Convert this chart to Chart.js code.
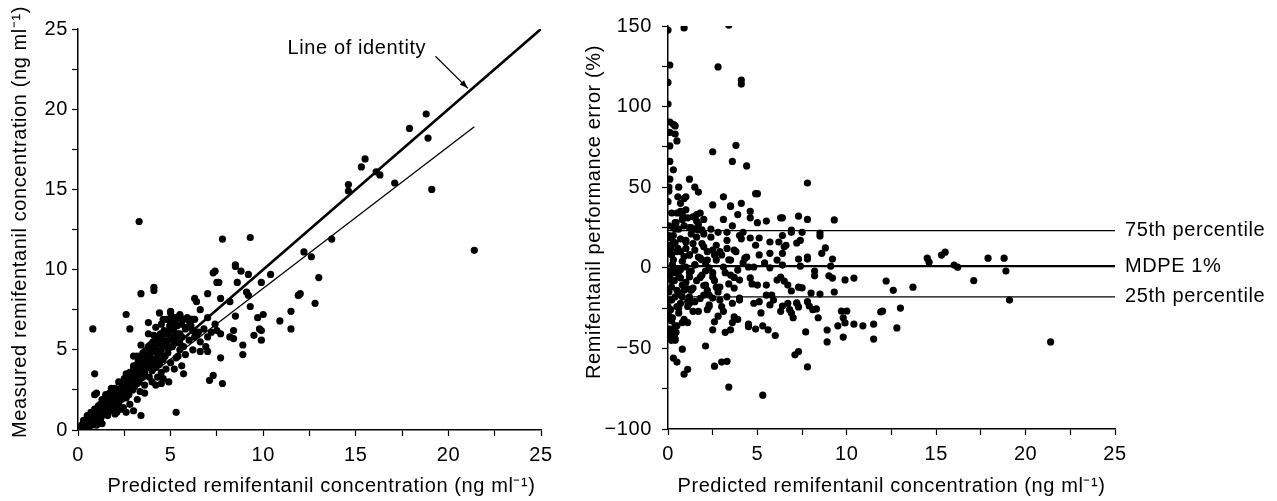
<!DOCTYPE html>
<html>
<head>
<meta charset="utf-8">
<script src="https://cdn.jsdelivr.net/npm/chart.js@4.4.1/dist/chart.umd.min.js"></script>
<style>
  body { margin: 0; background: #fff; }
  #left { position: absolute; left: 0; top: 0; }
  #right { position: absolute; left: 575px; top: 0; }
</style>
</head>
<body>
<canvas id="left" width="575" height="501"></canvas>
<canvas id="right" width="702" height="501"></canvas>
<script>
// panel A: predicted vs measured (ng/ml)
const predicted = [0.05,0.1,0.15,0.2,0.25,0.3,0.3,0.35,0.4,0.4,0.45,0.5,0.5,0.55,0.6,0.6,0.65,0.7,0.7,0.75,0.8,0.85,0.9,0.9,0.95,1.0,1.0,1.05,1.1,1.15,1.2,1.2,1.25,1.3,1.35,1.4,1.45,1.5,1.5,1.55,1.6,1.65,1.7,1.75,1.8,1.8,1.85,1.9,1.95,2.0,2.0,2.05,2.1,2.15,2.2,2.25,2.3,2.35,2.4,2.45,2.5,2.55,2.6,2.65,2.7,2.75,2.8,2.85,2.9,2.95,3.0,3.0,3.05,3.1,3.15,3.2,3.25,3.3,3.3,3.35,3.4,3.45,3.5,3.5,3.55,3.6,3.6,3.65,3.7,3.75,3.8,3.85,3.9,3.9,3.95,4.0,4.05,4.1,4.15,4.2,4.25,4.3,4.35,4.4,4.45,4.5,4.5,4.55,4.6,4.65,4.7,4.75,4.8,4.85,4.9,4.95,5.0,5.05,5.1,5.15,5.2,5.25,5.3,5.35,5.4,5.5,5.6,5.7,5.8,5.9,6.0,6.1,6.2,6.3,6.5,6.6,6.8,7.0,7.2,7.4,
  1.0,1.3,1.6,2.0,2.3,2.8,3.2,3.6,4.0,4.3,2.6,2.2,1.8,3.0,3.4,3.8,4.2,4.6,5.0,5.5,5.7,5.9,6.3,5.3,5.6,
  3.3,7.8,9.3,18.8,17.9,18.9,15.5,15.3,16.1,16.3,14.6,14.6,17.1,19.1,13.7,21.4,12.2,12.6,13.0,12.0,11.9,12.8,11.5,11.5,10.9,
  4.1,4.1,3.4,2.6,0.8,2.8,0.9,5.3,2.6,3.0,3.4,2.1,0.9,7.3,7.4,8.5,8.5,8.8,9.2,7.5,7.6,8.6,6.3,6.4,7.0,7.7,8.2,9.1,9.2,9.3,8.5,9.7,10.0,10.4,9.9,11.9,9.8,9.9,9.5,9.9,8.4,8.2,8.4,7.5,7.7,7.0,6.9,7.0,6.6,8.9,8.9,7.7,7.3,7.1,7.8,5.7,4.9,4.5,5.5,6.2,6.1,6.6,5.5,5.5,5.0,4.8,4.4,3.8,
  0.2,0.3,0.5,0.6,0.7,0.8,0.9,1.0,1.1,1.2,1.3,1.4,1.5,1.6,1.7,1.8,1.9,2.0,2.1,2.2,2.3,2.4,2.5,2.6,2.7,2.8,2.9,3.0,3.1,3.2,3.3,3.4,3.5,3.6,3.7,3.8,3.9,4.0,4.1,4.2,4.3,4.4,4.5,4.6,4.7,4.8,4.9,5.0,5.1,5.2,5.3,5.4,5.5,5.6,5.8,6.0,6.2,6.4,4.6,4.2,
  0.4,0.8,1.2,1.6,2.0,2.4,2.8,3.2,3.6,4.0,4.4,4.8,5.2,3.0,3.5,4.0,4.5,5.0,2.5,1.5];
const measured = [0.05,0.15,0.1,0.3,0.2,0.45,0.15,0.3,0.55,0.2,0.4,0.7,0.3,0.5,0.8,0.4,0.6,0.9,0.5,0.3,0.7,1.0,0.6,0.4,1.2,0.9,0.5,1.3,1.0,0.7,1.4,1.1,0.8,1.6,1.2,1.0,1.5,1.8,1.3,1.1,1.7,2.0,1.4,1.9,2.2,1.6,1.2,2.0,2.4,1.8,2.2,1.5,2.5,2.0,1.7,2.3,2.6,1.9,2.2,1.4,2.8,2.4,2.0,3.0,2.6,2.2,3.3,2.8,3.5,2.5,3.8,3.1,2.7,4.0,3.4,2.9,4.3,3.7,3.0,2.4,4.5,3.9,3.3,4.8,4.1,3.6,2.8,4.4,5.0,3.9,4.6,3.3,5.3,4.2,4.9,3.7,5.5,4.4,5.1,3.9,5.8,4.7,5.4,4.1,6.0,5.0,3.6,5.7,4.4,6.2,5.3,3.8,6.0,4.8,5.6,6.5,4.2,6.8,5.2,6.2,3.8,7.0,5.8,6.5,4.6,6.0,6.6,5.2,6.3,7.0,5.6,6.5,5.0,6.9,6.1,5.5,6.3,7.0,6.1,6.6,
  2.3,0.4,0.9,1.0,1.3,1.6,1.9,2.3,3.0,3.3,3.5,3.0,2.6,4.6,5.3,6.0,6.4,6.9,7.3,7.1,6.9,6.4,5.8,4.5,4.0,
  13.0,11.9,12.0,19.7,18.8,18.2,16.9,16.4,16.1,15.9,15.3,14.9,15.4,15.0,11.9,11.2,11.1,10.8,9.5,8.5,8.4,7.9,7.4,6.3,6.8,
  8.9,8.7,8.5,7.2,6.3,6.3,3.5,1.1,1.1,1.2,0.9,1.1,2.2,9.8,9.9,10.3,10.2,9.9,9.7,9.2,9.2,9.2,8.2,8.0,8.5,8.2,8.0,8.6,8.4,7.7,7.1,7.0,7.2,9.7,9.2,8.4,6.3,6.2,5.9,5.6,6.2,5.8,5.7,6.2,6.0,5.8,5.2,4.9,4.9,5.3,4.7,4.5,3.4,3.1,2.9,3.5,3.0,2.9,5.4,6.9,6.9,7.5,7.2,7.0,7.4,6.9,7.3,6.7,
  0.1,0.6,0.9,0.2,1.1,0.5,1.3,0.3,1.5,0.6,1.9,1.3,2.1,1.2,2.3,1.9,1.5,2.6,1.9,2.3,2.0,2.6,2.1,2.6,3.3,2.5,3.0,3.5,3.2,4.6,4.1,3.5,3.9,4.3,4.0,5.2,4.7,4.4,5.9,4.9,4.3,5.6,5.3,6.0,4.6,5.2,6.2,5.8,6.6,5.5,6.9,6.0,5.0,5.8,4.7,6.8,6.2,5.9,3.2,2.8,
  0.6,0.9,1.6,2.0,2.3,2.9,3.6,4.0,4.9,5.1,4.8,5.5,6.4,4.0,4.6,5.4,6.6,6.9,3.2,2.2];
const identityX = [0, 25];
const identityY = [0, 25];
const fitX = [0, 21.4];
const fitY = [0, 18.9];

// panel B: predicted vs performance error (%)
const predictedB = [0,0.9,3.4,0.1,2.8,4.1,4.1,0,0,0.1,0.3,0.4,0.1,0.4,0.5,0.1,3.8,2.5,3.6,4.4,0.1,0.3,0.1,0.6,1.2,1.5,1.7,1.0,3.1,0.05,0.05,0,4.9,5.0,7.8,9.3,2.5,3.5,4.1,4.6,7.3,6.3,5.5,
  6.4,6.9,7.5,8.5,8.5,6.6,7.2,8.8,8.6,6.4,7.3,7.8,9.2,6.4,7.4,9.1,8.2,8.2,9.0,9.2,9.9,10.4,12.2,12.6,13.7,14.5,14.6,15.3,15.5,16.0,16.2,6.5,6.9,7.3,7.5,8.0,8.5,9.3,6.4,6.8,7.2,7.3,7.0,7.8,7.9,8.1,8.3,8.4,9.7,10.0,9.8,9.9,9.5,8.9,10.4,10.9,11.5,11.9,12.0,13.0,12.8,11.5,9.8,8.9,7.7,7.1,7.3,7.8,
  17.9,18.8,18.9,17.1,19.1,21.4,
  0.8,2.1,0.3,0.5,0.9,1.1,2.6,3.0,3.3,3.4,5.3,5.3,4.9,4.5,3.5,2.6,3.7,3.9,0.2,0.3,0.4,0.1,
  0.2,0.5,0.8,1.4,1.8,1.0,0.9,1.2,1.7,0.7,3.9,3.5,4.6,5.0,0.3,1.3,1.9,3.3,4.0,4.6,5.1,5.7,6.2,6.5,6.9,6.4,7.4,0,0.4,1.0,1.6,2.5,2.9,3.3,3.7,4.4,5.1,5.7,6.1,7.8,0.1,0.7,1.2,1.7,2.2,2.7,3.5,4.2,4.8,0.3,1.0,1.5,2.3,3.1,3.9,4.5,5.7,6.3,0.1,0.7,1.2,1.9,2.5,3.5,4.0,4.6,5.5,6.1,6.7,0.2,0.8,1.4,2.1,2.9,3.7,5.0,5.5,0.4,1.2,2.0,2.5,3.3,4.0,4.8,5.1,5.9,6.7,7.2,3.6,0,0.7,1.1,1.5,2.3,3.0,5.7,6.3,6.9,0,0.8,0.2,0.6,1.1,2.5,3.6,4.5,5.6,0.1,0.4,0.1,7.8,
  0.05,0.05,0.05,0.05,0.05,0.05,0.15,0.25,0.35,0.2,0.45,0.55,0.3,0.6,0.9,1.3,1.6,2.0,2.2,2.8,3.2,0.35,0.5,0.25,0.15,
  0.1,0.2,0.3,0.3,0.4,0.4,0.5,0.5,0.6,0.6,0.7,0.7,0.8,0.8,0.9,0.9,1.0,1.0,1.1,1.1,1.2,1.2,1.3,1.3,1.4,1.5,1.5,1.6,1.7,1.8,1.8,1.9,2.0,2.0,2.1,2.2,2.3,2.4,2.6,2.7,2.8,3.0,3.1,3.2,3.3,3.4,3.6,3.8,4.0,4.2,4.3,4.7,4.9,5.2,5.4,5.8,6.0,0.15,0.25,0.35,0.45,0.55,0.2,0.6,
  0.3,0.6,0.9,1.2,1.5,1.8,2.1,2.4,2.7,0.4,0.7,1.0,1.3,1.6,1.9,2.2,2.5,2.8,3.1,0.2,0.5,0.8,1.1,1.4,1.7,2.0,2.3,2.6,2.9,3.4,3.7,4.1,4.4];
const errorB = [147.5,148.8,150.6,125.8,124.6,116.5,114,115,101.6,90.4,89,88,84,83,78.7,75.6,76,72,66,63.2,66,60.8,55,50,55,50,47,44,44,50,47.6,41,46,46,52.6,29.7,39,38.5,40,35,32,31,29,
  31,23.4,22,21.6,19.7,14,15.4,12.3,9,9,5.4,5.4,5.4,1.7,1,1,-2,-5,-5,-6.4,-7.5,-6.4,-8.2,-14,-12,6,3.5,7.9,9.7,1.7,0.4,-8.2,-14.4,-12,-12.5,-15.7,-16.3,-15,-23.7,-26,-21.8,-24.3,-31,-21,-23.7,-26,-25.5,-31,-26.8,-26.8,-31,-34.2,-36,-38.6,-35,-36,-35,-27.4,-26.8,-25,-37.3,-44.2,-43,-46,-39.8,-54,-52,-61.5,
  6,6,-2,-8,-20,-46,
  -50.5,-48.5,-56,-58.5,-66,-63,-61,-58.5,-58,-74,-79,-36,-38,-35,-38.5,-33.5,-30.5,-32,-40,-42,-44,-38,
  34,34,33,31.6,34,36,43,25,23.5,40,33,38,31,28,25,25,23.5,22,20,18.5,18.5,16,16,13,22,20,17,18.5,15.5,16,19,11,10,12,11,6.7,8,9,4.8,6.7,9,10,8,6.7,4.8,4.8,4.8,3,0.5,0,0.5,1.7,0,0.5,-1.4,0.5,0,-5.7,-4.5,-6.3,-5.7,-4.5,-5.7,-4.5,-7.6,-6.3,-10.7,-7.6,-10.7,-11.9,-10.7,-12.6,-10.7,-11.9,-12.6,-10.7,-17,-18,-18,-17,-18.8,-18,-18.8,-22,-21,-20,-22,-22,-22,-24,-22,-24,-21,-24,-24,-23,-27,-28,-29,-34,-33,-28,-34,-38.5,-34,-36.5,-38.5,-41.8,-45,-40.5,
  30,20,10,-2,-15,-30,26,14,2,-8,-20,28,12,-3,24,-14,-2,29,13,-26,-30,-40,-43,-36,-39,
  12,-20,-8,20,5,-36,28,-14,10,-25,-2,35,18,-18,4,-32,26,-9,12,-21,31,-3,8,-14,21,-27,2,11,-8,27,-19,6,15,-11,30,-2,10,-23,24,-8,14,-15,8,30,-3,17,-10,26,10,-20,22,6,-10,14,-28,3,-17,-42,-26,-31,15,-40,44,-45,
  -5,16,-16,7,-22,24,-6,3,19,-12,24,-1,17,-21,33,5,-14,-3,22,-27,8,-24,30,-13,15,-27,21,-17,8,-20,5,-6,18];
const pctX = [0, 25];
const p75 = [23, 23];
const mdpe = [1, 1];
const p25 = [-18, -18];

const FONT = "'Liberation Sans', Arial, Helvetica, sans-serif";
const FSIZE = 20;
Chart.defaults.font.family = FONT;
Chart.defaults.font.size = FSIZE;
Chart.defaults.color = '#000';

function pts(xs, ys) {
  return xs.map((x, i) => ({ x: x, y: ys[i] }));
}

function minus(v) {
  return v < 0 ? '\u2212' + Math.abs(v) : '' + v;
}

function axis(min, max, step, labelEvery, fitSize, pad, isX) {
  return {
    type: 'linear',
    min: min,
    max: max,
    border: { display: true, color: '#000', width: 1.5 },
    grid: { display: true, drawOnChartArea: false, drawTicks: true, tickLength: 6, color: '#000', tickWidth: 1.2 },
    ticks: {
      stepSize: step,
      padding: pad,
      maxRotation: 0,
      autoSkip: false,
      callback: v => (Math.abs(v % labelEvery) < 1e-9 ? minus(v) : '')
    },
    title: { display: false },
    afterFit: s => { if (isX) s.height = fitSize; else s.width = fitSize; }
  };
}

const xTitle = 'Predicted remifentanil concentration (ng ml\u207B\u00B9)';

// axis titles, labels and arrow
const notes = {
  id: 'notes',
  beforeDraw(chart) {
    chart.ctx.letterSpacing = '0.6px';
  },
  afterDatasetsDraw(chart, args, opts) {
    const ctx = chart.ctx;
    const xs = chart.scales.x, ys = chart.scales.y;
    const area = chart.chartArea;
    ctx.save();
    ctx.fillStyle = '#000';
    ctx.strokeStyle = '#000';
    ctx.font = FSIZE + 'px ' + FONT;
    ctx.textBaseline = 'middle';
    ctx.textAlign = 'center';
    ctx.fillText(xTitle, (area.left + area.right) / 2 + opts.xShift, 486);
    ctx.save();
    ctx.translate(opts.yTitleX, opts.yTitleY);
    ctx.rotate(-Math.PI / 2);
    ctx.fillText(opts.yTitle, 0, 0);
    ctx.restore();
    if (opts.kind === 'identity') {
      ctx.textAlign = 'right';
      ctx.fillText('Line of identity', xs.getPixelForValue(18.8), ys.getPixelForValue(23.8));
      const x0 = xs.getPixelForValue(19.3), y0 = ys.getPixelForValue(23.3);
      const x1 = xs.getPixelForValue(21.05), y1 = ys.getPixelForValue(21.3);
      ctx.lineWidth = 1.3;
      ctx.beginPath(); ctx.moveTo(x0, y0); ctx.lineTo(x1, y1); ctx.stroke();
      const a = Math.atan2(y1 - y0, x1 - x0);
      ctx.beginPath();
      ctx.moveTo(x1, y1);
      ctx.lineTo(x1 - 9 * Math.cos(a - 0.35), y1 - 9 * Math.sin(a - 0.35));
      ctx.lineTo(x1 - 9 * Math.cos(a + 0.35), y1 - 9 * Math.sin(a + 0.35));
      ctx.closePath(); ctx.fill();
    } else {
      ctx.textAlign = 'left';
      const x = area.right + 10;
      ctx.fillText('75th percentile', x, ys.getPixelForValue(p75[0]));
      ctx.fillText('MDPE 1%', x, ys.getPixelForValue(mdpe[0]));
      ctx.fillText('25th percentile', x, ys.getPixelForValue(p25[0]));
    }
    ctx.restore();
  }
};

function dots(data) {
  return { data: data, pointRadius: 3.6, pointBackgroundColor: '#000', pointBorderWidth: 0, showLine: false, order: 2 };
}
function line(data, w) {
  return { data: data, showLine: true, borderColor: '#000', borderWidth: w, pointRadius: 0, fill: false, order: 1 };
}

new Chart(document.getElementById('left'), {
  type: 'scatter',
  data: {
    datasets: [
      line(pts(identityX, identityY), 2.6),
      line(pts(fitX, fitY), 1.3),
      dots(pts(predicted, measured))
    ]
  },
  options: {
    responsive: false,
    animation: false,
    layout: { padding: { top: 29, right: 34, left: 0, bottom: 0 } },
    plugins: {
      legend: { display: false }, tooltip: { enabled: false },
      notes: { kind: 'identity', xShift: 12, yTitle: 'Measured remifentanil concentration (ng ml\u207B\u00B9)', yTitleX: 20, yTitleY: 222 }
    },
    scales: {
      x: axis(0, 25, 2.5, 5, 71, 7, true),
      y: axis(0, 25, 2.5, 5, 78, 4, false)
    }
  },
  plugins: [notes]
});

new Chart(document.getElementById('right'), {
  type: 'scatter',
  data: {
    datasets: [
      line(pts(pctX, p75), 1.2),
      line(pts(pctX, mdpe), 2.2),
      line(pts(pctX, p25), 1.2),
      dots(pts(predictedB, errorB))
    ]
  },
  options: {
    responsive: false,
    animation: false,
    layout: { padding: { top: 26, right: 162, left: 0, bottom: 0 } },
    plugins: {
      legend: { display: false }, tooltip: { enabled: false },
      notes: { kind: 'pct', xShift: 0, yTitle: 'Remifentanil performance error (%)', yTitleX: 19, yTitleY: 212 }
    },
    scales: {
      x: axis(0, 25, 2.5, 5, 72, 7, true),
      y: axis(-100, 150, 25, 50, 93, 10, false)
    }
  },
  plugins: [notes]
});
</script>
</body>
</html>
